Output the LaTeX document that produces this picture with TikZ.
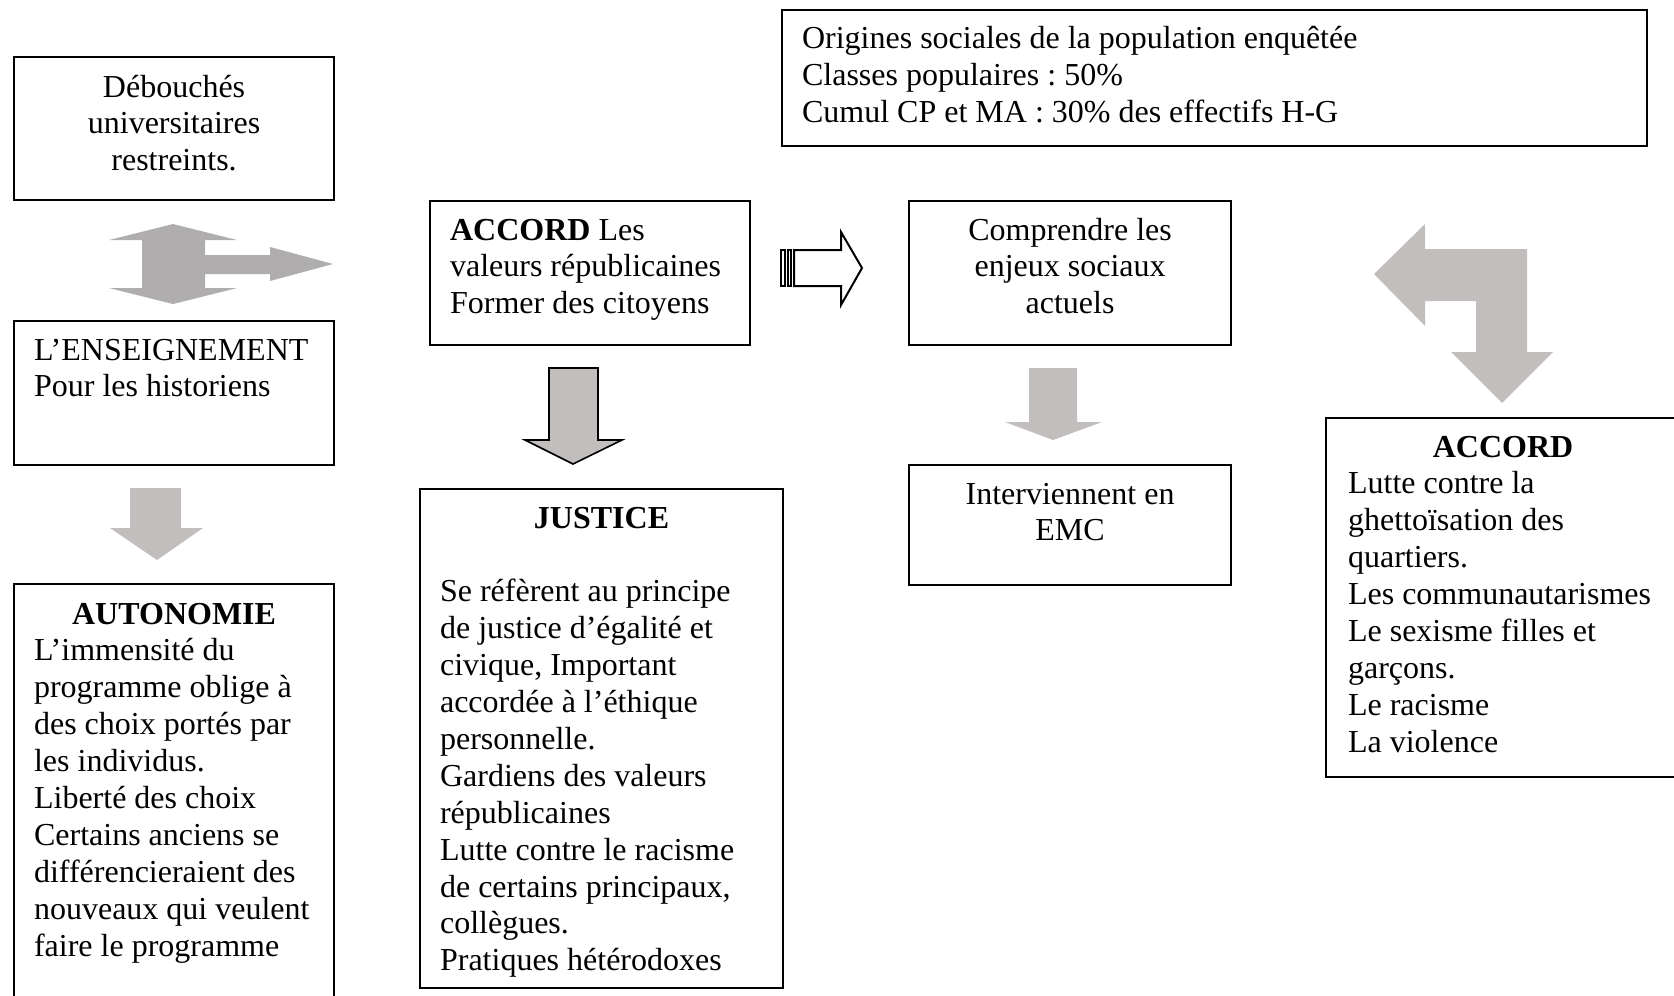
\documentclass[tikz,border=0pt]{standalone}
\usepackage{fontspec}
\setmainfont{Liberation Serif}
\frenchspacing
\hyphenpenalty=10000
\definecolor{grisfonce}{RGB}{175,173,174}
\definecolor{grisclair}{RGB}{194,190,190}
\begin{document}
\begin{tikzpicture}[x=0.375pt,y=-0.375pt,
  cadre/.style={rectangle,draw=black,line width=0.8pt,anchor=north west,inner ysep=0pt,font=\fontsize{12pt}{13.84pt}\selectfont}]
\useasboundingbox (0,0) rectangle (1674,995);
\node[cadre,align=flush center,inner xsep=3pt,text width=114pt,text height=15pt,text depth=38.6pt] (debouches) at (13,56) {Débouchés\\ universitaires\\ restreints.};
\node[cadre,align=flush left,inner xsep=7.5pt,text width=105pt,text height=14.6pt,text depth=39.4pt] (enseignement) at (13,320) {L’ENSEIGNEMENT\\ Pour les historiens};
\node[cadre,align=flush left,inner xsep=7.5pt,text width=105pt,text height=15pt,text depth=145pt] (autonomie) at (13,583) {\makebox[\linewidth]{\textbf{AUTONOMIE}}\\ L’immensité du\\ programme oblige à\\ des choix portés par\\ les individus.\\ Liberté des choix\\ Certains anciens se\\ différencieraient des\\ nouveaux qui veulent\\ faire le programme};
\node[cadre,align=flush left,inner xsep=7.5pt,text width=105pt,text height=14.6pt,text depth=39.4pt] (accord) at (429,200) {\textbf{ACCORD} Les\\ valeurs républicaines\\ Former des citoyens};
\node[cadre,align=flush left,inner xsep=7.5pt,text width=121.1pt,text height=14.6pt,text depth=172.5pt] (justice) at (419,488) {\makebox[\linewidth]{\textbf{JUSTICE}}\\[13.84pt] Se réfèrent au principe\\ de justice d’égalité et\\ civique, Important\\ accordée à l’éthique\\ personnelle.\\ Gardiens des valeurs\\ républicaines\\ Lutte contre le racisme\\ de certains principaux,\\ collègues.\\ Pratiques hétérodoxes};
\node[cadre,align=flush left,inner xsep=7.5pt,text width=309.4pt,text height=14.6pt,text depth=36.4pt] (origines) at (781,9) {Origines sociales de la population enquêtée\\ Classes populaires : 50\%\\ Cumul CP et MA : 30\% des effectifs H-G};
\node[cadre,align=flush center,inner xsep=3pt,text width=114.75pt,text height=14.6pt,text depth=39.4pt] (comprendre) at (908,200) {Comprendre les\\ enjeux sociaux\\ actuels};
\node[cadre,align=flush center,inner xsep=3pt,text width=114.75pt,text height=14.6pt,text depth=30.4pt] (emc) at (908,464) {Interviennent en\\ EMC};
\node[cadre,align=flush left,inner xsep=8.25pt,text width=116.25pt,text height=14.6pt,text depth=120pt] (accorddroite) at (1325,417) {\makebox[\linewidth]{\textbf{ACCORD}}\\ Lutte contre la\\ ghettoïsation des\\ quartiers.\\ Les communautarismes\\ Le sexisme filles et\\ garçons.\\ Le racisme\\ La violence};
\fill[grisfonce] (173,224) -- (237,240) -- (205,240) -- (205,255) -- (270,255) -- (270,247) -- (333,264) -- (270,281) -- (270,274) -- (205,274) -- (205,288) -- (237,288) -- (173,304) -- (109,288) -- (142,288) -- (142,240) -- (109,240) -- cycle;
\fill[grisclair] (130,488) -- (181,488) -- (181,528) -- (203,528) -- (157,560) -- (110,528) -- (130,528) -- cycle;
\filldraw[fill=grisclair,draw=black,line width=0.6pt] (549,368) -- (598,368) -- (598,440) -- (622,440) -- (573,464) -- (525,440) -- (549,440) -- cycle;
\draw[line width=0.9pt,fill=white] (781,250) rectangle (785,286);
\draw[line width=0.9pt,fill=white] (788,250) rectangle (791,286);
\draw[line width=0.75pt] (794,250) -- (841,250) -- (841,232) -- (862,268) -- (841,305) -- (841,286) -- (794,286) -- cycle;
\fill[grisclair] (1029,368) -- (1077,368) -- (1077,422) -- (1102,422) -- (1053,440) -- (1005,422) -- (1029,422) -- cycle;
\fill[grisclair] (1374,274) -- (1425,224) -- (1425,249) -- (1527,249) -- (1527,352) -- (1553,352) -- (1502,403) -- (1451,352) -- (1476,352) -- (1476,301) -- (1425,301) -- (1425,326) -- cycle;
\end{tikzpicture}
\end{document}
